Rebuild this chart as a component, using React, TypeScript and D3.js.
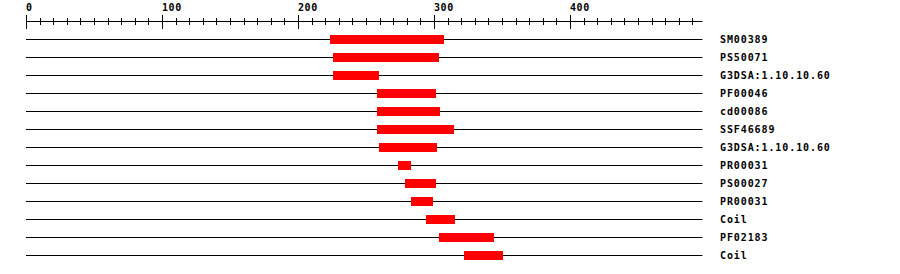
import React from "react";
import * as d3 from "d3";

const seqLength = 497;
const labels = ["SM00389", "PS50071", "G3DSA:1.10.10.60", "PF00046", "cd00086", "SSF46689", "G3DSA:1.10.10.60", "PR00031", "PS00027", "PR00031", "Coil", "PF02183", "Coil"];
const starts = [223, 225, 225, 258, 258, 258, 259, 273, 278, 283, 294, 303, 322];
const ends = [307, 303, 259, 301, 304, 314, 302, 283, 301, 299, 315, 344, 350];
const majorTicks = [0, 100, 200, 300, 400];

export default function App() {
  const W = 900, H = 274;
  const x = d3.scaleLinear().domain([0, seqLength]).range([26.5, 26.5 + 1.36 * seqLength]);
  const minor = d3.range(0, seqLength, 10);
  const axisY = 21.5;
  const rowY = (i: number) => 39.5 + i * 18;
  const px = (v: number) => Math.round(x(v) - 0.5) + 0.5;
  const font = "'DejaVu Sans Mono', monospace";
  return (
    <div style={{ position: "absolute", left: 0, top: 0 }}>
      <svg width={W} height={H} style={{ display: "block", background: "#fff" }}>
        <line x1={x(0)} x2={x(seqLength)} y1={axisY} y2={axisY} stroke="#000" strokeWidth={1} />
        {minor.map((t) => (
          <line key={"m" + t} x1={px(t)} x2={px(t)} y1={18} y2={25} stroke="#000" strokeWidth={1} />
        ))}
        {majorTicks.map((t) => (
          <g key={"M" + t}>
            <line x1={px(t)} x2={px(t)} y1={15} y2={29} stroke="#000" strokeWidth={1} />
            <text x={px(t) - 0.5} y={11} fontFamily={font} fontWeight="bold" fontSize={10} letterSpacing={0.6} fill="#000">
              {t}
            </text>
          </g>
        ))}
        {labels.map((lab, i) => (
          <g key={i}>
            <line x1={x(0) - 0.5} x2={x(seqLength)} y1={rowY(i)} y2={rowY(i)} stroke="#000" strokeWidth={1} />
            <rect x={Math.round(x(starts[i]))} width={Math.round(x(ends[i])) - Math.round(x(starts[i]))} y={rowY(i) - 4.5} height={9} fill="#ff0000" />
            <text x={720} y={rowY(i) + 3.5} fontFamily={font} fontWeight="bold" fontSize={10} letterSpacing={0.9} fill="#000">
              {lab}
            </text>
          </g>
        ))}
      </svg>
    </div>
  );
}
